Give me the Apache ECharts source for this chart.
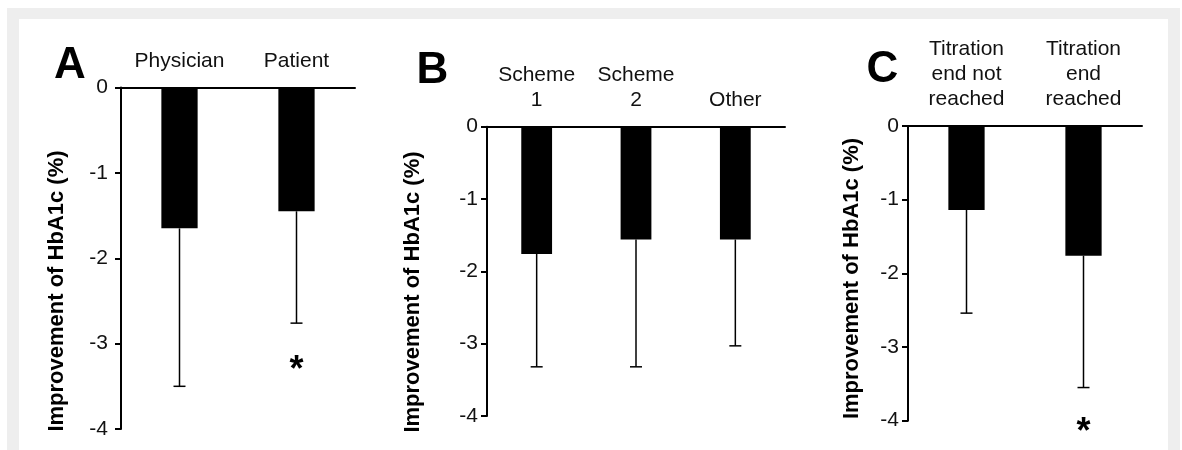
<!DOCTYPE html>
<html>
<head>
<meta charset="utf-8">
<script src="https://cdn.jsdelivr.net/npm/echarts@6/dist/echarts.min.js"></script>
<style>
  html, body { margin: 0; padding: 0; background: #fff; }
  #chart { width: 1182px; height: 450px; }
</style>
</head>
<body>
<div id="chart"></div>
<script>
// panel A: who titrated
const catsA = ['Physician', 'Patient']
const meanA = [-1.65, -1.45]
const errA = [-3.5, -2.76]
const starA = [null, -3.2]

// panel B: titration scheme
const catsB = ['Scheme\n1', 'Scheme\n2', 'Other']
const meanB = [-1.76, -1.56, -1.56]
const errB = [-3.32, -3.32, -3.03]
const starB = [null, null, null]

// panel C: titration end
const catsC = ['Titration\nend not\nreached', 'Titration\nend\nreached']
const meanC = [-1.14, -1.76]
const errC = [-2.54, -3.55]
const starC = [null, -4.03]

const yMin = -4, yMax = 0, yStep = 1
const yTitle = 'Improvement of HbA1c (%)'
const font = '"Liberation Sans", Arial, sans-serif'

const grids = [
    { left: 121, top: 87.5, width: 234, height: 341.5 },
    { left: 487, top: 126.7, width: 298, height: 289.3 },
    { left: 908, top: 126, width: 234, height: 294.7 }
]
const labelMargin = [13, 9, 9]
const panels = [
    { cats: catsA, mean: meanA, err: errA, star: starA },
    { cats: catsB, mean: meanB, err: errB, star: starB },
    { cats: catsC, mean: meanC, err: errC, star: starC }
]

let xAxes = [], yAxes = [], series = []

panels.forEach((p, i) => {
    xAxes.push({
        type: 'category',
        gridIndex: i,
        position: 'top',
        data: p.cats,
        axisLine: { lineStyle: { color: '#000', width: 2 } },
        axisTick: { show: false },
        axisLabel: {
            margin: 14,
            fontFamily: font,
            fontSize: 21,
            lineHeight: 25,
            color: '#111',
            interval: 0
        },
        splitLine: { show: false }
    })
    yAxes.push({
        type: 'value',
        gridIndex: i,
        min: yMin,
        max: yMax,
        interval: yStep,
        axisLine: { show: true, lineStyle: { color: '#000', width: 2 } },
        axisTick: { show: true, length: 6, lineStyle: { color: '#000', width: 2 } },
        axisLabel: {
            margin: labelMargin[i],
            fontFamily: font,
            fontSize: 21,
            color: '#111'
        },
        splitLine: { show: false }
    })
    series.push({
        type: 'bar',
        xAxisIndex: i,
        yAxisIndex: i,
        data: p.mean,
        barWidth: '31%',
        itemStyle: { color: '#000' },
        silent: true
    })
    // error bars hang from the bar end
    series.push({
        type: 'custom',
        xAxisIndex: i,
        yAxisIndex: i,
        data: p.mean.map((m, k) => [k, m, p.err[k]]),
        renderItem: function (params, api) {
            let a = api.coord([api.value(0), api.value(1)])
            let b = api.coord([api.value(0), api.value(2)])
            let st = { stroke: '#000', lineWidth: 1.5 }
            return {
                type: 'group',
                children: [
                    { type: 'line', shape: { x1: a[0], y1: a[1], x2: b[0], y2: b[1] }, style: st },
                    { type: 'line', shape: { x1: b[0] - 6, y1: b[1], x2: b[0] + 6, y2: b[1] }, style: st }
                ]
            }
        },
        silent: true
    })
    series.push({
        type: 'custom',
        xAxisIndex: i,
        yAxisIndex: i,
        data: p.star.map((s, k) => [k, s]).filter(d => d[1] !== null),
        renderItem: function (params, api) {
            let c = api.coord([api.value(0), api.value(1)])
            return {
                type: 'text',
                x: c[0],
                y: c[1] + 10,
                style: {
                    text: '*',
                    fontFamily: font,
                    fontWeight: 'bold',
                    fontSize: 36,
                    fill: '#000',
                    align: 'center',
                    verticalAlign: 'middle'
                }
            }
        },
        silent: true
    })
})

const letters = [
    { t: 'A', x: 70, y: 66 },
    { t: 'B', x: 432.5, y: 71 },
    { t: 'C', x: 882.5, y: 69.5 }
]
const titles = [
    { x: 57, y: 291 },
    { x: 413, y: 292 },
    { x: 852, y: 278.5 }
]

let graphic = [
    { type: 'rect', z: -10, shape: { x: 7, y: 8, width: 1173, height: 442 }, style: { fill: '#eeeeee' } },
    { type: 'rect', z: -9, shape: { x: 19, y: 19, width: 1149, height: 431 }, style: { fill: '#fff' } }
]
letters.forEach(l => {
    graphic.push({
        type: 'text', x: l.x, y: l.y,
        style: { text: l.t, fontFamily: font, fontWeight: 'bold', fontSize: 44, fill: '#000', align: 'center', verticalAlign: 'middle' }
    })
})
titles.forEach(t => {
    graphic.push({
        type: 'text', x: t.x, y: t.y, rotation: Math.PI / 2,
        style: { text: yTitle, fontFamily: font, fontWeight: 'bold', fontSize: 22, fill: '#000', align: 'center', verticalAlign: 'middle' }
    })
})

let option = {
    backgroundColor: '#fff',
    animation: false,
    grid: grids,
    xAxis: xAxes,
    yAxis: yAxes,
    series: series,
    graphic: graphic
}

let chart = echarts.init(document.getElementById('chart'))
chart.setOption(option)
</script>
</body>
</html>
